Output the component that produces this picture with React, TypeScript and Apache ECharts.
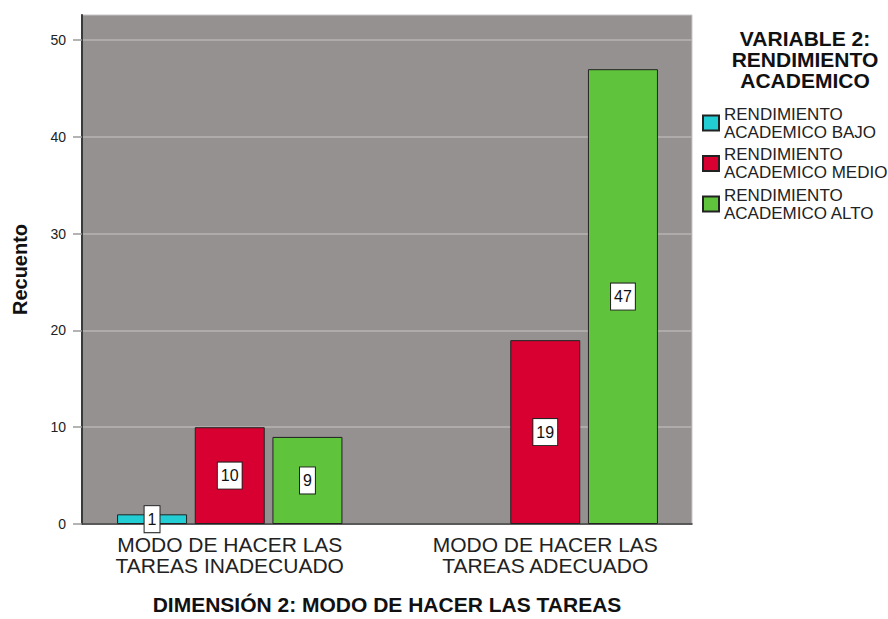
import React, { useEffect, useRef } from "react";
import * as echarts from "echarts";

const categories = [
  "MODO DE HACER LAS\nTAREAS INADECUADO",
  "MODO DE HACER LAS\nTAREAS ADECUADO",
];
const seriesNames = [
  "RENDIMIENTO ACADEMICO BAJO",
  "RENDIMIENTO ACADEMICO MEDIO",
  "RENDIMIENTO ACADEMICO ALTO",
];
const bajo: (number | string)[] = [1, "-"];
const medio: (number | string)[] = [10, 19];
const alto: (number | string)[] = [9, 47];
const yTicks = [0, 10, 20, 30, 40, 50];
const yMax = 52.6;
const colors = ["#22cdd3", "#d70030", "#5fc43b"];
const legendTitle = "VARIABLE 2:\nRENDIMIENTO\nACADEMICO";
const yTitle = "Recuento";
const xTitle = "DIMENSIÓN 2: MODO DE HACER LAS TAREAS";

const FONT = "'Liberation Sans', Arial, sans-serif";

export default function App() {
  const ref = useRef<HTMLDivElement>(null);
  useEffect(() => {
    if (!ref.current) return;
    const chart = echarts.init(ref.current, null, { renderer: "svg" });
    const values = [bajo, medio, alto];
    chart.setOption({
      animation: false,
      textStyle: { fontFamily: FONT },
      grid: [
        {
          left: 82,
          top: 15,
          width: 610,
          height: 509,
          show: true,
          backgroundColor: "#959191",
          borderColor: "#c9c6c6",
          borderWidth: 1,
          outerBoundsMode: "none",
          containLabel: false,
          z: 0,
        },
        { left: 72, top: 15, width: 631, height: 509, outerBoundsMode: "none", containLabel: false },
      ],
      xAxis: [
        {
          gridIndex: 0,
          type: "category",
          data: categories,
          axisLine: { show: true, lineStyle: { color: "#3a3a3a", width: 1.5 } },
          axisTick: { show: false },
          axisLabel: { show: false },
          name: xTitle,
          nameLocation: "middle",
          nameGap: 70,
          nameTextStyle: { fontSize: 21, fontWeight: "bold", color: "#111", fontFamily: FONT, verticalAlign: "top" },
        },
        {
          gridIndex: 1,
          type: "category",
          data: categories,
          axisLine: { show: false },
          axisTick: { show: false },
          axisLabel: { margin: 10, fontSize: 21, lineHeight: 21, color: "#222", fontFamily: FONT },
        },
      ],
      yAxis: [
        {
          gridIndex: 0,
          type: "value",
          min: 0,
          max: yMax,
          interval: 10,
          axisLine: { show: true, lineStyle: { color: "#3a3a3a", width: 2 } },
          axisTick: { show: true, length: 9, lineStyle: { color: "#9a9a9a", width: 1.5 }, customValues: yTicks },
          axisLabel: { fontSize: 14, color: "#222", margin: 16, fontFamily: FONT, customValues: yTicks },
          splitLine: { show: true, lineStyle: { color: "#b9b5b5", width: 1.5 } },
          name: yTitle,
          nameLocation: "middle",
          nameRotate: 90,
          nameGap: 52,
          nameTextStyle: { fontSize: 20, fontWeight: "bold", color: "#111", fontFamily: FONT },
        },
        {
          gridIndex: 1,
          type: "value",
          min: 0,
          max: yMax,
          show: false,
          splitLine: { show: false },
        },
      ],
      legend: {
        orient: "vertical",
        left: 702,
        top: 105,
        padding: 0,
        itemWidth: 16,
        itemHeight: 15,
        itemGap: 4.5,
        icon: "rect",
        data: seriesNames,
        formatter: (n: string) => n.replace(" ACADEMICO", "\nACADEMICO"),
        textStyle: { fontSize: 17, lineHeight: 18, color: "#222", fontFamily: FONT },
      },
      graphic: [
        {
          type: "text",
          x: 805,
          y: 28,
          style: {
            text: legendTitle,
            textAlign: "center",
            fontSize: 21,
            lineHeight: 21,
            fontWeight: "bold",
            fill: "#111",
            fontFamily: FONT,
          },
        },
      ],
      series: seriesNames.map((name, i) => ({
        name,
        type: "bar",
        xAxisIndex: 1,
        yAxisIndex: 1,
        data: values[i],
        barWidth: 70,
        barGap: "11%",
        itemStyle: { color: colors[i], borderColor: "#222", borderWidth: 1 },
        label: {
          show: true,
          position: "inside",
          formatter: "{c}",
          fontSize: 16,
          lineHeight: 18,
          color: "#111",
          fontFamily: FONT,
          backgroundColor: "#fff",
          borderColor: "#222",
          borderWidth: 1,
          padding: [4, 3, 4, 3],
        },
        z: 3,
      })),
    });
    return () => chart.dispose();
  }, []);
  return <div ref={ref} style={{ position: "absolute", left: 0, top: 0, width: 888, height: 619 }} />;
}
